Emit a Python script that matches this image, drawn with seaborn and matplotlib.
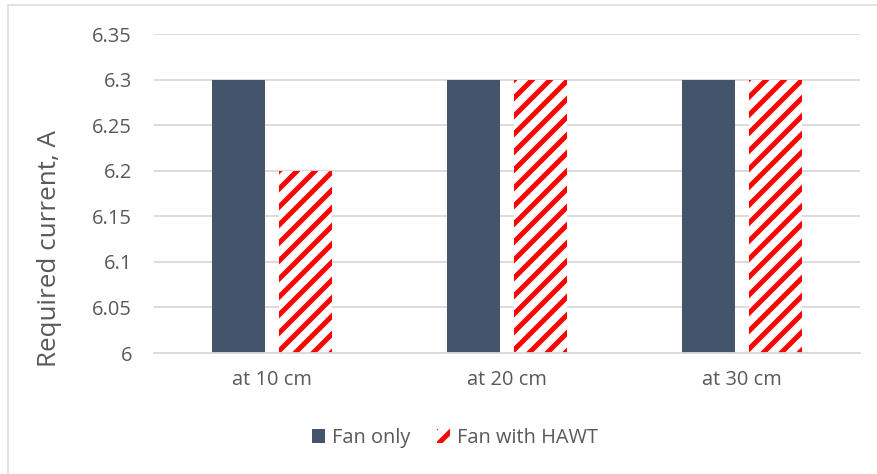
import matplotlib
matplotlib.use("Agg")
import matplotlib.pyplot as plt
from matplotlib.patches import Patch
from matplotlib.lines import Line2D
import seaborn as sns
import pandas as pd

# Measured current draw per distance
categories = ["at 10 cm", "at 20 cm", "at 30 cm"]
fan_only = [6.3, 6.3, 6.3]
fan_with_hawt = [6.2, 6.3, 6.3]
series_names = ["Fan only", "Fan with HAWT"]
y_ticks = [6.0, 6.05, 6.1, 6.15, 6.2, 6.25, 6.3, 6.35]
y_tick_labels = ["6", "6.05", "6.1", "6.15", "6.2", "6.25", "6.3", "6.35"]

df = pd.DataFrame({
    "position": categories * 2,
    "series": [series_names[0]] * 3 + [series_names[1]] * 3,
    "current": fan_only + fan_with_hawt,
})

W, H, DPI = 877, 474, 54
PT = 72 / DPI  # points per pixel


def px(v):
    return v * PT


sns.set_theme(style="white")
plt.rcParams["font.family"] = ["Open Sans", "DejaVu Sans"]
plt.rcParams["hatch.linewidth"] = px(5.0)

fig = plt.figure(figsize=(W / DPI, H / DPI), dpi=DPI)
ax = fig.add_axes([154 / W, 1 - 353 / H, (860 - 154) / W, (353 - 34) / H])

slate = "#44546A"
red = "#FF0000"
text_gray = "#595959"
grid_gray = "#D9D9D9"

sns.barplot(data=df, x="position", y="current", hue="series",
            palette=[slate, "white"], width=0.57, gap=0.21,
            ax=ax, legend=False, saturation=1)

n = len(categories)
for i, bar in enumerate(ax.patches[:2 * n]):
    bar.set_linewidth(0)
    if i >= n:
        bar.set_hatch("/")
        bar.set_edgecolor(red)
        bar.set_facecolor("white")

ax.set_ylim(6.0, 6.35)
ax.set_yticks(y_ticks)
ax.set_yticklabels(y_tick_labels)
ax.yaxis.grid(True, color=grid_gray, linewidth=px(1.8))
ax.set_axisbelow(True)
for s in ["left", "right", "top"]:
    ax.spines[s].set_visible(False)
ax.spines["bottom"].set_color(grid_gray)
ax.spines["bottom"].set_linewidth(px(1.8))
ax.tick_params(axis="both", length=0, labelsize=px(20), labelcolor=text_gray)
ax.tick_params(axis="y", pad=px(22))
ax.tick_params(axis="x", pad=px(17))
ax.set_xlabel("")
ax.set_ylabel("")
fig.text(50 / W, 1 - 248 / H, "Required current, A", rotation=90,
         fontsize=px(26), color=text_gray, ha="center", va="center")

handles = [
    Patch(facecolor=slate, edgecolor=slate, linewidth=0),
    Patch(facecolor="white", edgecolor=red, hatch="/", linewidth=0),
]
fig.legend(handles, series_names, loc="center", bbox_to_anchor=(455 / W, 1 - 438 / H),
           ncol=2, frameon=False, fontsize=px(20), labelcolor=text_gray,
           handlelength=0.65, handleheight=0.65, handletextpad=0.35,
           columnspacing=1.35, borderpad=0)

# chart frame (left and top edges)
fig.add_artist(Line2D([8 / W, 8 / W], [0, 1 - 5 / H], color=grid_gray, linewidth=px(1.5),
                      transform=fig.transFigure))
fig.add_artist(Line2D([8 / W, 1], [1 - 5 / H, 1 - 5 / H], color=grid_gray, linewidth=px(1.5),
                      transform=fig.transFigure))

fig.savefig("out.png", dpi=DPI)
